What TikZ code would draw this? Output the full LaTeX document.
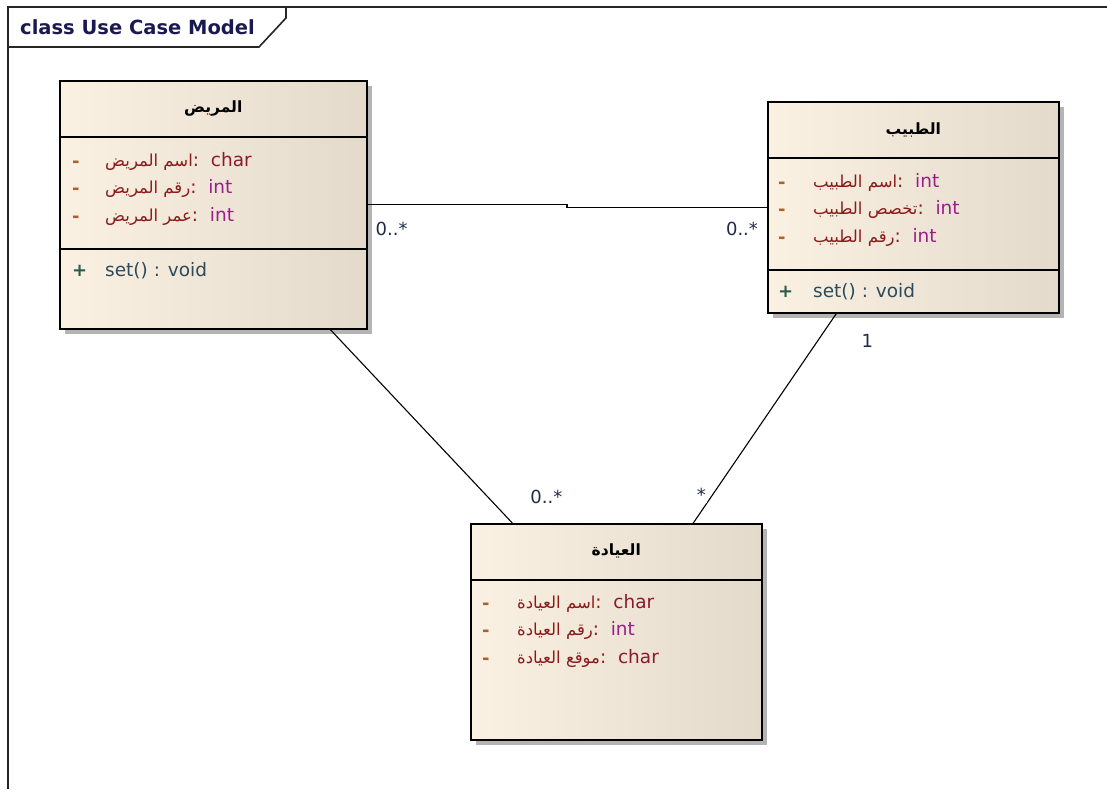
\documentclass[tikz,border=0pt]{standalone}
\usepackage{fontspec}
\setmainfont{DejaVu Sans}
\newfontfamily\arabicfont[Script=Arabic]{DejaVu Sans}
\TeXXeTstate=1
\usepackage{xcolor}
\usetikzlibrary{calc,shadows}
\definecolor{boxleft}{HTML}{FBF1E2}
\definecolor{boxright}{HTML}{E4DACB}
\definecolor{boxshadow}{HTML}{B4B4B4}
\definecolor{visdash}{HTML}{B0602A}
\definecolor{attrname}{HTML}{8B1A1A}
\definecolor{typechar}{HTML}{8B1A2E}
\definecolor{typeint}{HTML}{9A1E8A}
\definecolor{opcolor}{HTML}{2B4B5B}
\definecolor{pluscolor}{HTML}{2B5B4B}
\definecolor{multcolor}{HTML}{1E2A48}
\definecolor{framecolor}{HTML}{1A1A50}
\tikzset{%
	frame/.style    = {line width=1.6pt, draw=black!85},
	classbox/.style = {draw, line width=1.6pt, rectangle, inner sep=0pt, anchor=north west, left color=boxleft, right color=boxright, drop shadow={shadow xshift=5pt, shadow yshift=-5pt, fill=boxshadow, opacity=1}},
	sep/.style      = {line width=1.6pt},
	assoc/.style    = {line width=1.1pt},
	ctitle/.style   = {inner sep=0pt, font={\arabicfont\bfseries\fontsize{15.5}{19}\selectfont}},
	vis/.style      = {inner sep=0pt, anchor=west, text=visdash, font=\bfseries\fontsize{18}{22}\selectfont},
	attr/.style     = {inner sep=0pt, anchor=west, font=\fontsize{18.5}{22}\selectfont},
	mult/.style     = {inner sep=1pt, text=multcolor, font=\fontsize{18}{22}\selectfont},
}
\newcommand{\arname}[1]{\textcolor{attrname}{{\arabicfont\fontsize{16.5}{20}\selectfont\beginR #1\endR}:}}

\begin{document}
\begin{tikzpicture}[x=1pt,y=-1pt]
	\useasboundingbox (0,0) rectangle (1107,789);
	
	\draw[frame] (1107,7) -- (8,7) -- (8,789);
	\draw[frame] (8,47) -- (259,47) -- (286,18) -- (286,7);
	\node[anchor=west, inner sep=0pt, text=framecolor, font=\bfseries\fontsize{19.5}{23}\selectfont] (frametitle) at (20,27) {class Use Case Model};
	
	\node[classbox, minimum width=307, minimum height=248] (patient) at (59,80) {};
	\node[classbox, minimum width=291, minimum height=211] (doctor) at (767,101) {};
	\node[classbox, minimum width=291, minimum height=216] (clinic) at (470,523) {};
	
	\foreach \c in {patient,doctor,clinic} \draw[sep] ($(\c.north west)+(0,57)$) -- ($(\c.north east)+(0,57)$);
	\foreach \c in {patient,doctor} \draw[sep] ($(\c.north west)+(0,169)$) -- ($(\c.north east)+(0,169)$);
	
	\node[ctitle] (patienttitle) at ($(patient.north)+(0,29)$) {\beginR المريض\endR};
	\node[ctitle] (doctortitle) at ($(doctor.north)+(0,29)$) {\beginR الطبيب\endR};
	\node[ctitle] (clinictitle) at ($(clinic.north)+(0,28)$) {\beginR العيادة\endR};
	
	\foreach \n/\t/\k [count=\i] in {اسم المريض/char/typechar, رقم المريض/int/typeint, عمر المريض/int/typeint} {
		\node[vis] (pvis\i) at ($(patient.north west)+(13,{84+27.5*(\i-1)})$) {-};
		\node[attr] (pattr\i) at ($(patient.north west)+(46,{81+27.5*(\i-1)})$) {\arname{\n}~~\textcolor{\k}{\t}};
	}
	\foreach \n/\t/\k [count=\i] in {اسم الطبيب/int/typeint, تخصص الطبيب/int/typeint, رقم الطبيب/int/typeint} {
		\node[vis] (dvis\i) at ($(doctor.north west)+(11,{84+27.5*(\i-1)})$) {-};
		\node[attr] (dattr\i) at ($(doctor.north west)+(46,{81+27.5*(\i-1)})$) {\arname{\n}~~\textcolor{\k}{\t}};
	}
	\foreach \n/\t/\k [count=\i] in {اسم العيادة/char/typechar, رقم العيادة/int/typeint, موقع العيادة/char/typechar} {
		\node[vis] (cvis\i) at ($(clinic.north west)+(12,{83+27.5*(\i-1)})$) {-};
		\node[attr] (cattr\i) at ($(clinic.north west)+(47,{80+27.5*(\i-1)})$) {\arname{\n}~~\textcolor{\k}{\t}};
	}
	
	\foreach \c/\dx in {patient/13,doctor/11} {
		\node[vis, text=pluscolor] (\c-plus) at ($(\c.north west)+(\dx,191)$) {+};
		\node[attr, text=opcolor] (\c-op) at ($(\c.north west)+(46,191)$) {set() : void};
	}
	
	\coordinate (jog) at (567,205);
	\draw[assoc] (patient.east) -| (jog) |- (doctor.west);
	\draw[assoc] ([xshift=117pt]patient.south) -- ([xshift=-104pt]clinic.north);
	\draw[assoc] ([xshift=-77pt]doctor.south) -- ([xshift=77pt]clinic.north);
	
	\node[mult] (mpd) at ($(patient.east)+(24,24)$) {0..*};
	\node[mult] (mdp) at ($(doctor.west)+(-25,22)$) {0..*};
	\node[mult] (mpc) at ($(clinic.north)+(-70,-26)$) {0..*};
	\node[mult, fill=white] (mdc) at ($(clinic.north)+(85,-28)$) {*};
	\node[mult] (mcd) at ($(doctor.south)+(-46,27)$) {1};
\end{tikzpicture}
\end{document}
